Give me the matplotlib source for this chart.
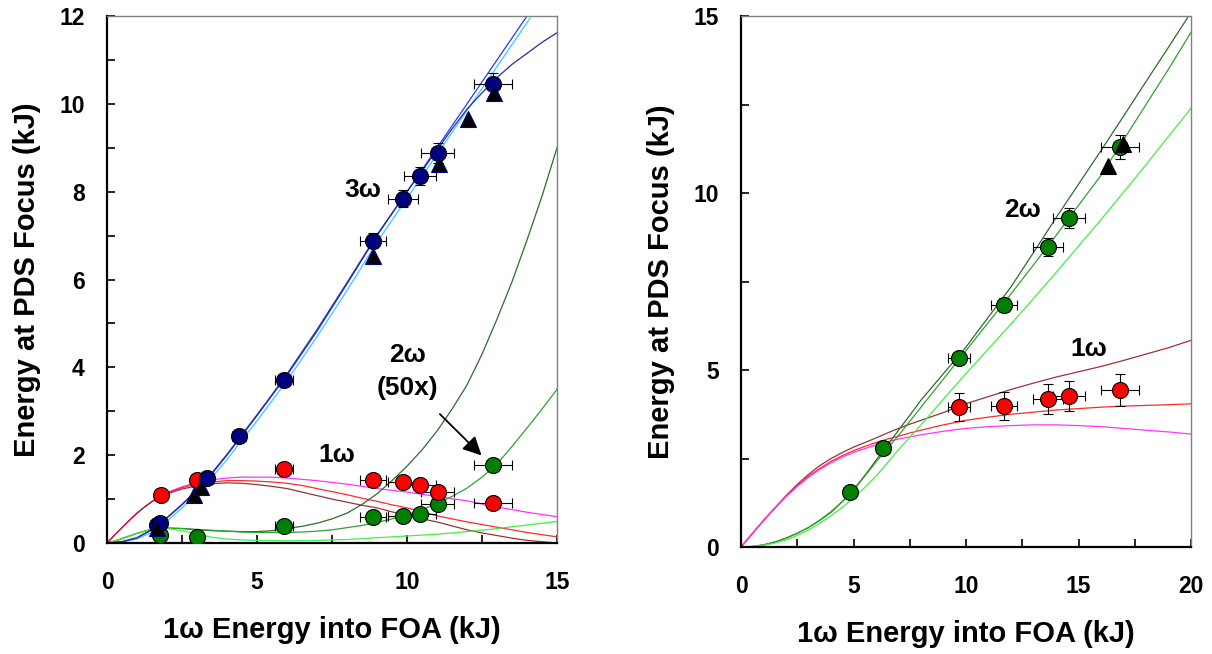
import matplotlib
matplotlib.use('Agg')
import matplotlib.pyplot as plt
from matplotlib.ticker import MultipleLocator

plt.rcParams['font.family'] = ['Liberation Sans', 'DejaVu Sans']
plt.rcParams['font.weight'] = 'bold'

# ---- left panel: measured points ----
x3w = [1.65, 1.75, 3.33, 4.4, 5.9, 8.87, 9.87, 10.43, 11.03, 12.87]
y3w = [0.42, 0.45, 1.48, 2.44, 3.71, 6.88, 7.84, 8.36, 8.88, 10.45]
xtri_l = [1.67, 2.9, 3.13, 8.87, 11.07, 12.03, 12.9]
ytri_l = [0.34, 1.09, 1.28, 6.54, 8.63, 9.66, 10.25]
x1w_l = [1.8, 3.0, 5.9, 8.87, 9.87, 10.43, 11.03, 12.87]
y1w_l = [1.1, 1.43, 1.68, 1.43, 1.39, 1.32, 1.16, 0.92]
x2w_l = [1.77, 3.0, 5.9, 8.87, 9.87, 10.43, 11.03, 12.87]
y2w_l = [0.18, 0.13, 0.38, 0.6, 0.61, 0.67, 0.88, 1.77]

# ---- left panel: model curves ----
xc_l = [0, 0.25, 0.5, 0.75, 1, 1.25, 1.5, 1.75, 2, 2.5, 3, 3.5, 4, 4.5, 5, 5.5, 6, 6.5, 7, 7.5,
        8, 8.5, 9, 9.5, 10, 10.5, 11, 11.5, 12, 12.5, 13, 13.5, 14, 14.5, 15, 15.3]
mag_l = [0, 0.18, 0.35, 0.52, 0.68, 0.82, 0.95, 1.06, 1.15, 1.28, 1.38, 1.44, 1.48, 1.5, 1.5, 1.5,
         1.48, 1.45, 1.42, 1.38, 1.34, 1.29, 1.24, 1.2, 1.16, 1.11, 1.06, 1.01, 0.96, 0.89, 0.82, 0.76,
         0.7, 0.65, 0.6, 0.57]
red_l = [0, 0.18, 0.35, 0.52, 0.68, 0.82, 0.95, 1.05, 1.14, 1.26, 1.34, 1.39, 1.42, 1.42, 1.41, 1.39,
         1.36, 1.31, 1.24, 1.17, 1.1, 1.02, 0.95, 0.87, 0.8, 0.71, 0.62, 0.55, 0.48, 0.42, 0.36, 0.3,
         0.24, 0.19, 0.14, 0.12]
brn_l = [0, 0.18, 0.35, 0.52, 0.68, 0.82, 0.94, 1.04, 1.12, 1.23, 1.3, 1.35, 1.37, 1.36, 1.33, 1.29,
         1.24, 1.16, 1.08, 1.0, 0.93, 0.86, 0.8, 0.71, 0.62, 0.55, 0.48, 0.39, 0.3, 0.23, 0.17, 0.11,
         0.06, 0.03, 0.0, -0.02]
dg_l = [0, 0.04, 0.1, 0.16, 0.22, 0.27, 0.31, 0.33, 0.34, 0.33, 0.3, 0.28, 0.27, 0.26, 0.26, 0.28,
        0.33, 0.38, 0.45, 0.55, 0.68, 0.88, 1.12, 1.42, 1.75, 2.12, 2.55, 3.05, 3.6, 4.3, 5.1, 5.95,
        6.9, 7.9, 9.0, 9.8]
mg_l = [0, 0.04, 0.1, 0.16, 0.22, 0.27, 0.31, 0.33, 0.34, 0.33, 0.31, 0.29, 0.27, 0.25, 0.24, 0.24,
        0.24, 0.25, 0.27, 0.3, 0.35, 0.4, 0.47, 0.55, 0.64, 0.76, 0.9, 1.06, 1.25, 1.5, 1.8, 2.2,
        2.62, 3.05, 3.5, 3.8]
lg_l = [0, 0.04, 0.1, 0.16, 0.22, 0.27, 0.31, 0.33, 0.33, 0.28, 0.2, 0.13, 0.09, 0.07, 0.06, 0.055,
        0.05, 0.055, 0.06, 0.07, 0.08, 0.1, 0.12, 0.14, 0.16, 0.18, 0.2, 0.23, 0.26, 0.29, 0.33, 0.37,
        0.41, 0.45, 0.49, 0.5]

x3c = [0, 0.5, 1, 1.5, 2, 2.5, 3, 3.5, 4, 4.5, 5, 5.5, 6, 7, 8, 9, 10, 11, 12, 13, 14.1]
blue_3 = [0, 0.03, 0.12, 0.3, 0.57, 0.87, 1.2, 1.58, 2.0, 2.45, 2.9, 3.36, 3.82, 4.82, 5.9, 7.0,
          8.0, 9.0, 10.0, 11.0, 12.1]
cyan_3 = [0, 0.02, 0.09, 0.25, 0.5, 0.8, 1.12, 1.5, 1.9, 2.35, 2.78, 3.24, 3.7, 4.7, 5.75, 6.85,
          7.85, 8.85, 9.85, 10.85, 11.95]
xnavy = [0, 0.5, 1, 1.5, 2, 2.5, 3, 3.5, 4, 4.5, 5, 5.5, 6, 7, 8, 9, 10, 11, 11.5, 12, 12.5, 13,
         13.5, 14, 14.5, 15, 15.3]
navy_3 = [0, 0.03, 0.12, 0.31, 0.58, 0.88, 1.22, 1.6, 2.02, 2.47, 2.92, 3.38, 3.85, 4.86, 5.93,
          7.02, 8.0, 8.95, 9.43, 9.88, 10.25, 10.6, 10.9, 11.15, 11.4, 11.62, 11.78]

# ---- right panel: measured points ----
x2w_r = [4.84, 6.31, 9.69, 11.69, 13.64, 14.58, 16.84]
y2w_r = [1.55, 2.8, 5.34, 6.84, 8.48, 9.29, 11.29]
xtri_r = [16.31, 16.98]
ytri_r = [10.76, 11.38]
x1w_r = [9.69, 11.69, 13.64, 14.58, 16.84]
y1w_r = [3.95, 3.99, 4.19, 4.27, 4.44]

# ---- right panel: model curves ----
xc_r = [0, 0.5, 1, 1.5, 2, 2.5, 3, 3.5, 4, 4.5, 5, 5.5, 6, 6.5, 7, 7.5, 8, 9, 10, 11, 12, 13, 14,
        15, 16, 17, 18, 19, 20.2]
brn_r = [0, 0.38, 0.75, 1.1, 1.45, 1.77, 2.05, 2.3, 2.5, 2.67, 2.82, 2.95, 3.08, 3.22, 3.35, 3.47,
         3.58, 3.8, 4.05, 4.25, 4.45, 4.63, 4.8, 4.95, 5.1, 5.27, 5.45, 5.63, 5.88]
red_r = [0, 0.38, 0.75, 1.1, 1.43, 1.73, 2.0, 2.22, 2.42, 2.58, 2.72, 2.84, 2.95, 3.05, 3.13, 3.22,
         3.3, 3.45, 3.58, 3.67, 3.75, 3.81, 3.87, 3.91, 3.95, 3.98, 4.0, 4.02, 4.05]
mag_r = [0, 0.37, 0.74, 1.09, 1.42, 1.71, 1.97, 2.19, 2.38, 2.54, 2.67, 2.78, 2.88, 2.97, 3.05, 3.11,
         3.17, 3.27, 3.35, 3.4, 3.43, 3.45, 3.45, 3.43, 3.4, 3.35, 3.3, 3.25, 3.18]
dg_r = [0, 0.015, 0.06, 0.14, 0.25, 0.39, 0.55, 0.75, 0.98, 1.28, 1.62, 2.02, 2.45, 2.87, 3.3, 3.72,
        4.15, 4.9, 5.65, 6.5, 7.35, 8.32, 9.3, 10.25, 11.2, 12.17, 13.15, 14.12, 15.3]
mg_r = [0, 0.015, 0.06, 0.14, 0.25, 0.39, 0.55, 0.76, 1.0, 1.28, 1.6, 2.0, 2.4, 2.78, 3.15, 3.55,
        3.95, 4.75, 5.55, 6.35, 7.15, 7.97, 8.8, 9.65, 10.5, 11.5, 12.5, 13.5, 14.75]
lg_r = [0, 0.012, 0.05, 0.11, 0.2, 0.33, 0.48, 0.67, 0.88, 1.12, 1.38, 1.68, 2.0, 2.37, 2.75, 3.1,
        3.45, 4.18, 4.9, 5.6, 6.3, 7.02, 7.75, 8.5, 9.25, 10.02, 10.8, 11.6, 12.55]

fig = plt.figure(figsize=(12.12, 6.54), dpi=100)
ax1 = fig.add_axes([0.0883, 0.1697, 0.3713, 0.8058])
ax2 = fig.add_axes([0.6114, 0.1636, 0.3713, 0.8119])

lw = 0.9
eb = dict(fmt='none', ecolor='black', elinewidth=0.8, capsize=3.5, capthick=0.8, zorder=3)
mk = dict(linestyle='none', markersize=11.5, markeredgecolor='black', markeredgewidth=0.8, zorder=4)
tfont = dict(fontsize=19, fontweight='bold', ha='center', va='center')

# left panel
ax1.plot(xc_l, mag_l, color='#ff33ff', lw=lw)
ax1.plot(xc_l, red_l, color='#ff2a2a', lw=lw)
ax1.plot(xc_l, brn_l, color='#993333', lw=lw)
ax1.plot(xc_l, dg_l, color='#2e6b2e', lw=lw)
ax1.plot(xc_l, mg_l, color='#33a033', lw=lw)
ax1.plot(xc_l, lg_l, color='#44ee44', lw=lw)
ax1.plot(x3c, cyan_3, color='#33ccff', lw=lw)
ax1.plot(x3c, blue_3, color='#3333ff', lw=lw)
ax1.plot(xnavy, navy_3, color='#2b2b99', lw=lw)

ax1.errorbar(x3w, y3w, xerr=[0.05 * v for v in x3w], yerr=[0.025 * v for v in y3w], **eb)
ax1.errorbar(x1w_l, y1w_l, xerr=[0.05 * v for v in x1w_l], yerr=[0.03 * v for v in y1w_l], **eb)
ax1.errorbar(x2w_l, y2w_l, xerr=[0.05 * v for v in x2w_l], yerr=[0.04 * v for v in y2w_l], **eb)
ax1.plot(x2w_l, y2w_l, marker='o', markerfacecolor='#008000', **mk)
ax1.plot(x1w_l, y1w_l, marker='o', markerfacecolor='#ff0000', **mk)
ax1.plot(xtri_l, ytri_l, marker='^', markerfacecolor='black', linestyle='none',
         markersize=11, markeredgecolor='#000080', markeredgewidth=0.8, zorder=5)
ax1.plot(x3w, y3w, marker='o', markerfacecolor='#000080', **mk)

ax1.text(8.53, 8.04, '3ω', **tfont)
ax1.text(7.67, 2.0, '1ω', **tfont)
ax1.text(10.0, 4.28, '2ω', **tfont)
ax1.text(10.0, 3.53, '(50x)', **tfont)
ax1.annotate('', xy=(12.55, 1.95), xytext=(11.03, 2.98),
             arrowprops=dict(arrowstyle='-|>', color='black', lw=1.3, mutation_scale=28))

ax1.set_xlim(0, 15)
ax1.set_ylim(0, 12)
ax1.xaxis.set_major_locator(MultipleLocator(5))
ax1.xaxis.set_minor_locator(MultipleLocator(2.5))
ax1.yaxis.set_major_locator(MultipleLocator(2))
ax1.yaxis.set_minor_locator(MultipleLocator(1))

# right panel
ax2.plot(xc_r, brn_r, color='#993333', lw=lw)
ax2.plot(xc_r, red_r, color='#ff2a2a', lw=lw)
ax2.plot(xc_r, mag_r, color='#ff33ff', lw=lw)
ax2.plot(xc_r, dg_r, color='#2e6b2e', lw=lw)
ax2.plot(xc_r, mg_r, color='#33a033', lw=lw)
ax2.plot(xc_r, lg_r, color='#44ee44', lw=lw)

ax2.errorbar(x2w_r, y2w_r, xerr=[0.05 * v for v in x2w_r], yerr=[0.03 * v for v in y2w_r], **eb)
ax2.errorbar(x1w_r, y1w_r, xerr=[0.05 * v for v in x1w_r], yerr=[0.1 * v for v in y1w_r], **eb)
ax2.plot(x1w_r, y1w_r, marker='o', markerfacecolor='#ff0000', **mk)
ax2.plot(x2w_r, y2w_r, marker='o', markerfacecolor='#008000', **mk)
ax2.plot(xtri_r, ytri_r, marker='^', markerfacecolor='black', linestyle='none',
         markersize=11, markeredgecolor='black', markeredgewidth=0.8, zorder=5)

ax2.text(12.52, 9.51, '2ω', **tfont)
ax2.text(15.44, 5.6, '1ω', **tfont)

ax2.set_xlim(0, 20)
ax2.set_ylim(0, 15)
ax2.xaxis.set_major_locator(MultipleLocator(5))
ax2.xaxis.set_minor_locator(MultipleLocator(2.5))
ax2.yaxis.set_major_locator(MultipleLocator(5))
ax2.yaxis.set_minor_locator(MultipleLocator(2.5))

for ax, xly in ((ax1, -0.165), (ax2, -0.164)):
    ax.spines['left'].set_linewidth(1.6)
    ax.spines['bottom'].set_linewidth(1.6)
    ax.spines['top'].set_linewidth(1.0)
    ax.spines['right'].set_linewidth(1.0)
    ax.spines['top'].set_color('#808080')
    ax.spines['right'].set_color('#808080')
    ax.tick_params(which='both', direction='in', length=6, width=1.2, top=False, right=False)
    ax.tick_params(axis='x', which='major', pad=20, labelsize=16.5)
    ax.tick_params(axis='y', which='major', pad=16, labelsize=16.5)
    for lab in ax.get_xticklabels() + ax.get_yticklabels():
        lab.set_fontweight('bold')
    xl = ax.set_xlabel('1ω Energy into FOA (kJ)', fontsize=21, fontweight='bold')
    yl = ax.set_ylabel('Energy at PDS Focus (kJ)', fontsize=21, fontweight='bold')
    xl.set_verticalalignment('center')
    yl.set_verticalalignment('center')
    ax.xaxis.set_label_coords(0.5, xly)
    ax.yaxis.set_label_coords(-0.178, 0.5)

fig.savefig('out.png', dpi=100)
